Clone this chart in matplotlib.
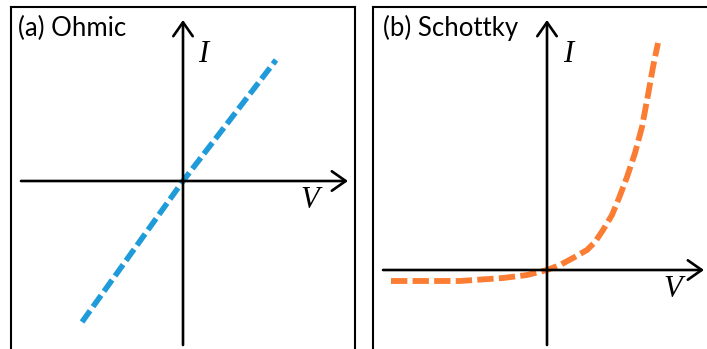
import matplotlib
matplotlib.use("Agg")
import matplotlib.pyplot as plt

# I-V curves, arbitrary units (origin at the axis crossing)
ohmic_v = [-1.01, 0.0, 0.93]
ohmic_i = [-1.41, 0.0, 1.21]

schottky_v = [-1.56, -0.87, -0.44, -0.20, 0.0, 0.13, 0.26, 0.40, 0.48,
              0.56, 0.65, 0.72, 0.80, 0.88, 0.95, 1.01, 1.06, 1.11]
schottky_i = [-0.11, -0.11, -0.08, -0.05, 0.0, 0.05, 0.12, 0.20, 0.28,
              0.40, 0.55, 0.72, 0.93, 1.17, 1.43, 1.75, 2.03, 2.27]

titles = ["(a) Ohmic", "(b) Schottky"]

W, H = 707, 349
fig = plt.figure(figsize=(W / 100, H / 100), dpi=100)


def make_panel(left_px, right_px, x0_px, y0_px):
    top_px, bottom_px = 7, 362
    ax = fig.add_axes([left_px / W, 1 - bottom_px / H,
                       (right_px - left_px) / W, (bottom_px - top_px) / H])
    ax.set_xlim((left_px - x0_px) / 100, (right_px - x0_px) / 100)
    ax.set_ylim(-(bottom_px - y0_px) / 100, (y0_px - top_px) / 100)
    ax.set_xticks([])
    ax.set_yticks([])
    for s in ax.spines.values():
        s.set_linewidth(1.5)
        s.set_color("black")
    return ax


def draw_axes(ax, xlo, xhi, ylo, yhi, i_pos, v_pos):
    arrow = dict(arrowstyle="->,head_length=1.0,head_width=0.7", lw=1.9,
                 color="black", shrinkA=0, shrinkB=0, mutation_scale=10)
    ax.annotate("", xy=(xhi, 0), xytext=(xlo, 0), arrowprops=arrow,
                annotation_clip=False)
    ax.annotate("", xy=(0, yhi), xytext=(0, ylo), arrowprops=arrow,
                annotation_clip=False)
    lab = dict(family="Liberation Serif", style="italic", fontsize=22,
               ha="center", va="center")
    ax.text(i_pos[0], i_pos[1], "I", **lab)
    ax.text(v_pos[0], v_pos[1], "V", **lab)


# panel (a)
ax1 = make_panel(11, 355, 183, 181)
draw_axes(ax1, -1.62, 1.65, -1.64, 1.61, (0.20, 1.27), (1.27, -0.20))
ax1.plot(ohmic_v, ohmic_i, color="#1F9BDA", lw=4.0,
         dashes=(2.5, 0.9), dash_capstyle="butt")
ax1.text(0.02, 0.94, titles[0], transform=ax1.transAxes, family="Lato",
         fontsize=18.5, ha="left", va="center")

# panel (b)
ax2 = make_panel(373, 720, 547, 270)
draw_axes(ax2, -1.64, 1.57, -0.75, 2.50, (0.21, 2.15), (1.26, -0.20))
ax2.plot(schottky_v, schottky_i, color="#FB7D33", lw=4.2,
         dashes=(2.8, 0.9), dash_capstyle="butt")
ax2.text(0.029, 0.94, titles[1], transform=ax2.transAxes, family="Lato",
         fontsize=18.5, ha="left", va="center")

fig.savefig("out.png", dpi=100)
